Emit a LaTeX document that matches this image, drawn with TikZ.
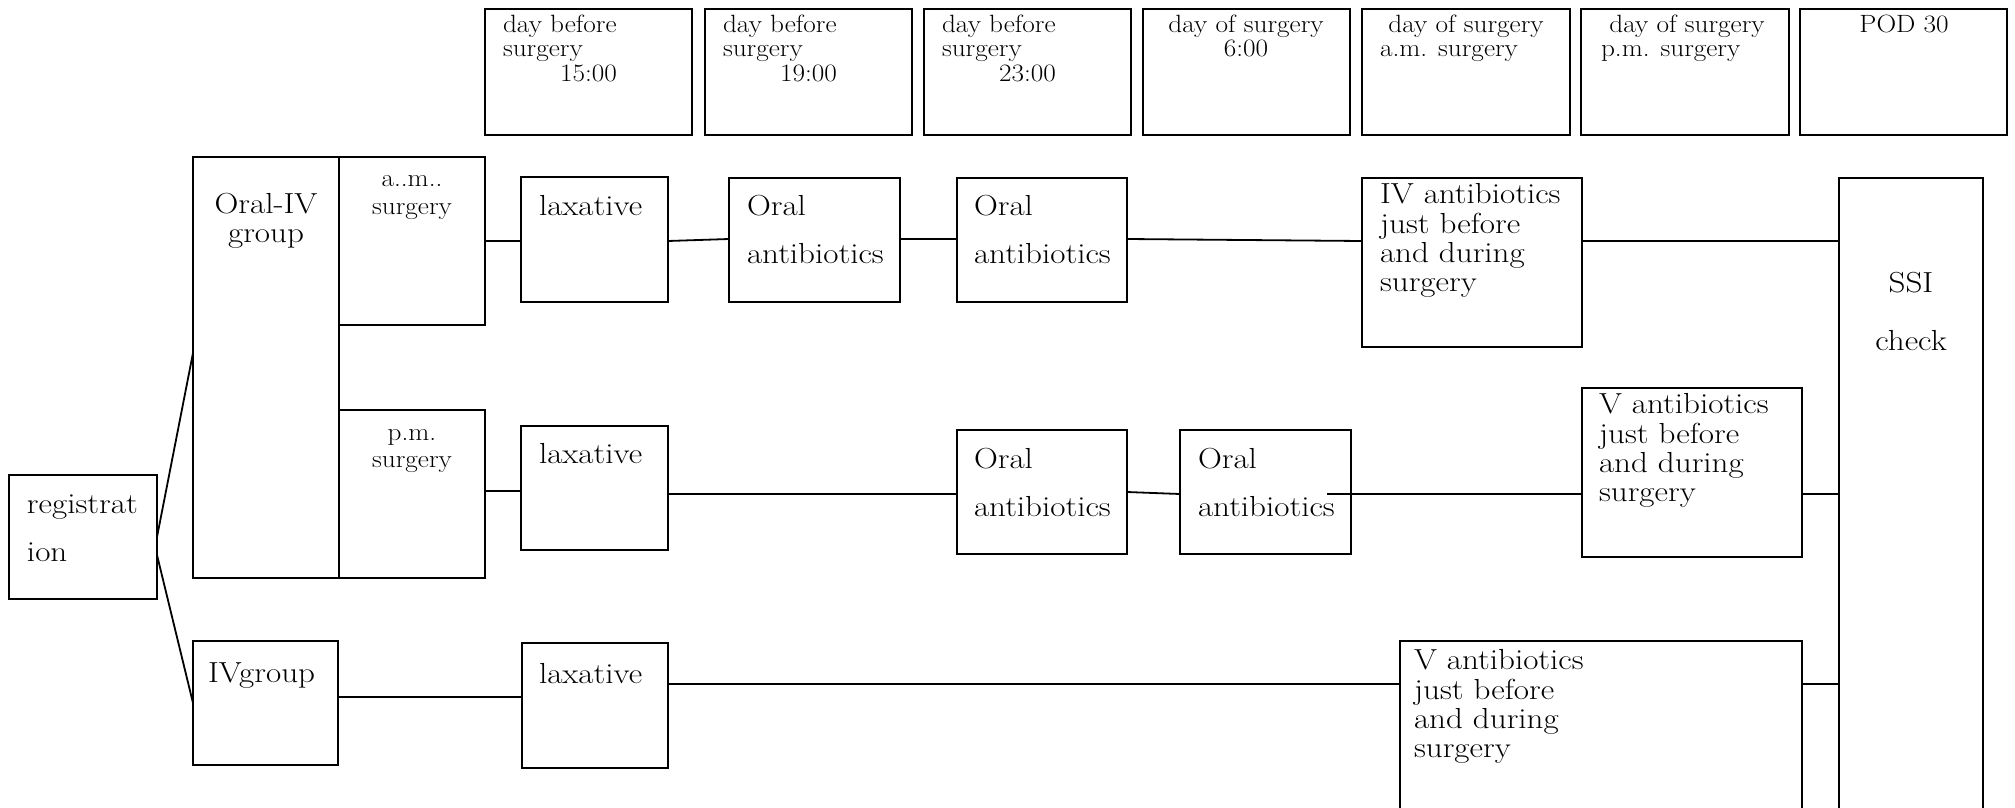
\documentclass[tikz,border=0pt]{standalone}
\usepackage{fontspec}
\setmainfont{Latin Modern Roman}[FakeStretch=1.14]
\newfontfamily\hdrfont{Latin Modern Roman}[FakeStretch=1.09]
\usetikzlibrary{calc}
\newcommand\mybox[5]{\node[bx, minimum width={(#4)-(#2)}, minimum height={(#5)-(#3)}] (#1) at ({((#2)+(#4))/2},{((#3)+(#5))/2}) {};}
\begin{document}
\begin{tikzpicture}[x=1pt,y=-1pt,
  bx/.style={draw, line width=1.8pt, rectangle, inner sep=0pt, outer sep=0pt},
  conn/.style={line width=1.8pt},
  txt/.style={inner sep=0pt, outer sep=0pt, anchor=north west, align=left, font=\fontsize{29}{29}\selectfont},
  dbl/.style={txt, font=\fontsize{29}{48}\selectfont},
  hdr/.style={inner sep=0pt, outer sep=0pt, anchor=north west, align=left, font=\hdrfont\fontsize{25}{24.5}\selectfont},
  sm/.style={inner sep=0pt, outer sep=0pt, anchor=north, align=center, font=\hdrfont\fontsize{25}{27.5}\selectfont}]
\useasboundingbox (0,0) rectangle (2015,808);
\fill[white] (0,0) rectangle (2015,808);
\clip (0,0) rectangle (2015,808);

% header boxes
\mybox{h1}{485}{9}{692}{135}
\mybox{h2}{705}{9}{912}{135}
\mybox{h3}{924}{9}{1131}{135}
\mybox{h4}{1143}{9}{1350}{135}
\mybox{h5}{1362}{9}{1570}{135}
\mybox{h6}{1581}{9}{1789}{135}
\mybox{h7}{1800}{9}{2007}{135}
\node[hdr] (h1t) at (503,14.85) {\strut day before\\surgery\\\makebox[171pt]{15:00}};
\node[hdr] (h2t) at (723,14.85) {\strut day before\\surgery\\\makebox[171pt]{19:00}};
\node[hdr] (h3t) at (942,14.85) {\strut day before\\surgery\\\makebox[171pt]{23:00}};
\node[hdr, anchor=north, align=center] (h4t) at (1246,14.85) {\strut day of surgery\\6:00};
\node[hdr] (h5t) at (1380,14.85) {\strut\makebox[172pt]{day of surgery}\\a.m. surgery};
\node[hdr] (h6t) at (1601,14.85) {\strut\makebox[172pt]{day of surgery}\\p.m. surgery};
\node[hdr, anchor=north] (h7t) at (1904,14.85) {\strut POD 30};

% main boxes
\mybox{reg}{9}{475}{157}{599}
\mybox{oraliv}{193}{157}{339}{578}
\mybox{am}{339}{157}{485}{325}
\mybox{pm}{339}{410}{485}{578}
\mybox{ivg}{193}{641}{338}{765}
\mybox{laxa}{521}{177}{668}{302}
\mybox{orala}{729}{178}{900}{302}
\mybox{oralb}{957}{178}{1127}{302}
\mybox{iva}{1362}{178}{1582}{347}
\mybox{ssi}{1839}{178}{1983}{840}
\mybox{laxb}{521}{426}{668}{550}
\mybox{oralc}{957}{430}{1127}{554}
\mybox{orald}{1180}{430}{1351}{554}
\mybox{ivb}{1582}{388}{1802}{557}
\mybox{laxc}{522}{643}{668}{768}
\mybox{ivc}{1400}{641}{1802}{840}

% texts
\node[dbl] (regt) at (27,479.4) {\strut registrat\\ion};
\node[txt, anchor=north, align=center] (oralivt) at (266,192.7) {\strut Oral-IV\\group};
\node[sm] (amt) at (412,167.45) {\strut a..m..\\surgery};
\node[sm] (pmt) at (412,420.75) {\strut p.m.\\surgery};
\node[txt] (ivgt) at (208,661.7) {\strut IVgroup};
\node[txt] (laxat) at (539,194.7) {\strut laxative};
\node[txt] (laxbt) at (539,442.7) {\strut laxative};
\node[txt] (laxct) at (539,662.7) {\strut laxative};
\node[dbl] (oralat) at (747,181.4) {\strut Oral\\antibiotics};
\node[dbl] (oralbt) at (974,181.4) {\strut Oral\\antibiotics};
\node[dbl] (oralct) at (974,434.4) {\strut Oral\\antibiotics};
\node[dbl] (oraldt) at (1198,434.4) {\strut Oral\\antibiotics};
\node[txt] (ivat) at (1380,182.7) {\strut IV antibiotics\\just before\\and during\\surgery};
\node[txt] (ivbt) at (1599,392.7) {\strut V antibiotics\\just before\\and during\\surgery};
\node[txt] (ivct) at (1414,648.7) {\strut V antibiotics\\just before\\and during\\surgery};
\node[txt, anchor=north, align=center, font=\fontsize{29}{58}\selectfont] (ssit) at (1911,251.4) {\strut SSI\\check};

% connectors
\coordinate (o4in) at (1327,494);
\draw[conn] (reg.east) -- (oraliv.west |- 0,353);
\draw[conn] (reg.east |- 0,555) -- (ivg.west);
\draw[conn] (am.east |- 0,241) -- (laxa.west |- 0,241);
\draw[conn] (laxa.east |- 0,241) -- (orala.west |- 0,239);
\draw[conn] (orala.east |- 0,239) -- (oralb.west |- 0,239);
\draw[conn] (oralb.east |- 0,239) -- (iva.west |- 0,241);
\draw[conn] (iva.east |- 0,241) -- (ssi.west |- 0,241);
\draw[conn] (pm.east |- 0,491) -- (laxb.west |- 0,491);
\draw[conn] (laxb.east |- 0,494) -- (oralc.west |- 0,494);
\draw[conn] (oralc.east |- 0,492) -- (orald.west |- 0,494);
\draw[conn] (o4in) -- (ivb.west |- o4in);
\draw[conn] (ivb.east |- 0,494) -- (ssi.west |- 0,494);
\draw[conn] (ivg.east |- 0,697) -- (laxc.west |- 0,697);
\draw[conn] (laxc.east |- 0,684) -- (ivc.west |- 0,684);
\draw[conn] (ivc.east |- 0,684) -- (ssi.west |- 0,684);
\end{tikzpicture}
\end{document}
